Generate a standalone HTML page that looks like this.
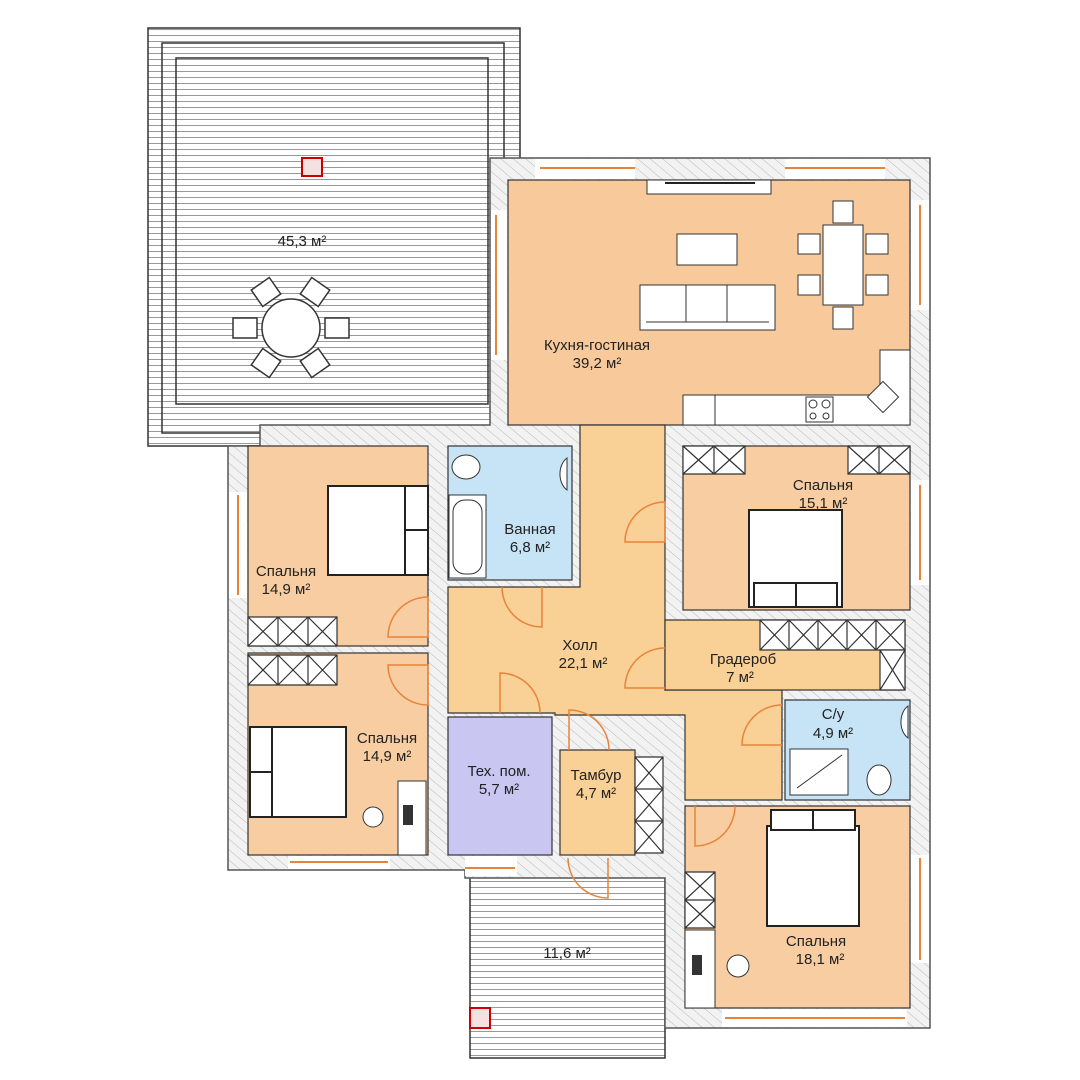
<!DOCTYPE html>
<html><head><meta charset="utf-8"><style>
html,body{margin:0;padding:0;background:#fff}
svg{display:block}
text{font-family:"Liberation Sans",sans-serif;font-size:15px;fill:#222;text-anchor:middle}
</style></head><body>
<svg width="1080" height="1080" viewBox="0 0 1080 1080" xmlns="http://www.w3.org/2000/svg">
<defs>
<pattern id="deck" width="10" height="6" patternUnits="userSpaceOnUse"><rect width="10" height="6" fill="#fff"/><line x1="0" y1="5.5" x2="10" y2="5.5" stroke="#999" stroke-width="1"/></pattern>
<pattern id="hatch" width="8" height="8" patternUnits="userSpaceOnUse" patternTransform="rotate(-50)"><rect width="8" height="8" fill="#f2f2f2"/><line x1="0" y1="0" x2="0" y2="8" stroke="#b8b8b8" stroke-width="1"/></pattern>
</defs>
<!-- top terrace -->
<rect x="148" y="28" width="372" height="418" fill="url(#deck)" stroke="#333" stroke-width="1.5"/>
<rect x="162" y="43" width="342" height="390" fill="none" stroke="#333" stroke-width="1.5"/>
<rect x="176" y="58" width="312" height="346" fill="url(#deck)" stroke="#333" stroke-width="1.5"/>
<!-- bottom terrace -->
<rect x="470" y="876" width="195" height="182" fill="url(#deck)" stroke="#333" stroke-width="1.5"/>
<!-- building walls -->
<polygon points="490,158 930,158 930,1028 665,1028 665,878 465,878 465,870 228,870 228,446 260,446 260,425 490,425" fill="url(#hatch)" stroke="#555" stroke-width="1.5"/>
<!-- window gaps -->
<g fill="#fff">
<rect x="535" y="159" width="100" height="20"/><rect x="785" y="159" width="100" height="20"/>
<rect x="911" y="200" width="18" height="110"/><rect x="911" y="480" width="18" height="105"/><rect x="911" y="855" width="18" height="108"/>
<rect x="229" y="492" width="18" height="106"/><rect x="288" y="856" width="102" height="13"/><rect x="465" y="856" width="52" height="20"/>
<rect x="722" y="1009" width="185" height="18"/><rect x="491" y="210" width="16" height="150"/>
</g>
<!-- rooms -->
<g stroke="#333" stroke-width="1.2">
<rect x="508" y="180" width="402" height="245" fill="#F8C99A"/>
<rect x="248" y="446" width="180" height="200" fill="#F8CDA2"/>
<rect x="248" y="653" width="180" height="202" fill="#F8CDA2"/>
<rect x="448" y="446" width="124" height="134" fill="#C6E4F5"/>
<polygon points="580,425 665,425 665,690 782,690 782,800 685,800 685,715 555,715 555,713 448,713 448,587 580,587" fill="#F9D095"/>
<rect x="683" y="446" width="227" height="164" fill="#F8CDA2"/>
<rect x="665" y="620" width="240" height="70" fill="#F9D095"/>
<rect x="785" y="700" width="125" height="100" fill="#C6E4F5"/>
<rect x="685" y="806" width="225" height="202" fill="#F8CDA2"/>
<rect x="448" y="717" width="104" height="138" fill="#C9C6F1"/>
<rect x="560" y="750" width="75" height="105" fill="#F9D095"/>
</g>
<!-- kitchen counter -->
<polygon points="683,395 880,395 880,350 910,350 910,425 683,425" fill="#fff" stroke="#333"/>
<line x1="715" y1="395" x2="715" y2="425" stroke="#333"/>
<rect x="806" y="397" width="27" height="25" fill="#fff" stroke="#333"/>
<circle cx="813" cy="404" r="4" fill="none" stroke="#333"/><circle cx="826" cy="404" r="4" fill="none" stroke="#333"/>
<circle cx="813" cy="416" r="3" fill="none" stroke="#333"/><circle cx="826" cy="416" r="3" fill="none" stroke="#333"/>
<rect x="872" y="386" width="22" height="22" fill="#fff" stroke="#333" transform="rotate(45 883 397)"/>
<!-- kitchen furniture -->
<rect x="677" y="234" width="60" height="31" fill="#fff" stroke="#333"/>
<rect x="640" y="285" width="135" height="45" fill="#fff" stroke="#333"/>
<line x1="686" y1="285" x2="686" y2="322" stroke="#333"/><line x1="727" y1="285" x2="727" y2="322" stroke="#333"/><line x1="646" y1="322" x2="769" y2="322" stroke="#333"/>
<rect x="823" y="225" width="40" height="80" fill="#fff" stroke="#333"/>
<g fill="#fff" stroke="#333"><rect x="833" y="201" width="20" height="22"/><rect x="833" y="307" width="20" height="22"/><rect x="798" y="234" width="22" height="20"/><rect x="798" y="275" width="22" height="20"/><rect x="866" y="234" width="22" height="20"/><rect x="866" y="275" width="22" height="20"/></g>
<rect x="647" y="180" width="124" height="14" fill="#fff" stroke="#333"/>
<line x1="665" y1="183" x2="755" y2="183" stroke="#222" stroke-width="2"/>
<!-- terrace table -->
<circle cx="291" cy="328" r="29" fill="#fff" stroke="#333" stroke-width="1.5"/>
<g fill="#fff" stroke="#333" stroke-width="1.5"><rect x="233" y="318" width="24" height="20"/><rect x="325" y="318" width="24" height="20"/>
<rect x="255" y="282" width="22" height="20" transform="rotate(-35 266 292)"/><rect x="304" y="282" width="22" height="20" transform="rotate(35 315 292)"/>
<rect x="255" y="353" width="22" height="20" transform="rotate(35 266 363)"/><rect x="304" y="353" width="22" height="20" transform="rotate(-35 315 363)"/></g>
<rect x="302" y="158" width="20" height="18" fill="#f6e0e0" stroke="#c00" stroke-width="2"/>
<rect x="470" y="1008" width="20" height="20" fill="#f6e0e0" stroke="#c00" stroke-width="2"/>
<!-- beds -->
<g fill="#fff" stroke="#222" stroke-width="2">
<rect x="328" y="486" width="100" height="89"/><rect x="405" y="486" width="23" height="89"/><line x1="405" y1="530" x2="428" y2="530"/>
<rect x="250" y="727" width="96" height="90"/><rect x="250" y="727" width="22" height="90"/><line x1="250" y1="772" x2="272" y2="772"/>
<rect x="749" y="510" width="93" height="97"/><rect x="754" y="583" width="83" height="24"/><line x1="796" y1="583" x2="796" y2="607"/>
<rect x="767" y="826" width="92" height="100"/><rect x="771" y="810" width="84" height="20"/><line x1="813" y1="810" x2="813" y2="830"/>
</g>
<!-- wardrobes with X -->
<g fill="#fff" stroke="#333" stroke-width="1.2">
<path d="M248,617h89v29h-89z M248,617l30,29 M278,617l-30,29 M278,617l30,29 M308,617l-30,29 M308,617l29,29 M337,617l-29,29 M278,617v29 M308,617v29"/>
<path d="M248,655h89v30h-89z M248,655l30,30 M278,655l-30,30 M278,655l30,30 M308,655l-30,30 M308,655l29,30 M337,655l-29,30 M278,655v30 M308,655v30"/>
<path d="M683,446h62v28h-62z M683,446l31,28 M714,446l-31,28 M714,446l31,28 M745,446l-31,28 M714,446v28"/>
<path d="M848,446h62v28h-62z M848,446l31,28 M879,446l-31,28 M879,446l31,28 M910,446l-31,28 M879,446v28"/>
<path d="M760,620h145v30h-145z M760,620l29,30 M789,620l-29,30 M789,620l29,30 M818,620l-29,30 M818,620l29,30 M847,620l-29,30 M847,620l29,30 M876,620l-29,30 M876,620l29,30 M905,620l-29,30 M789,620v30 M818,620v30 M847,620v30 M876,620v30"/>
<path d="M880,650h25v40h-25z M880,650l25,40 M905,650l-25,40"/>
<path d="M635,757h28v96h-28z M635,757l28,32 M663,757l-28,32 M635,789l28,32 M663,789l-28,32 M635,821l28,32 M663,821l-28,32 M635,789h28 M635,821h28"/>
<path d="M685,872h30v56h-30z M685,872l30,28 M715,872l-30,28 M685,900l30,28 M715,900l-30,28 M685,900h30"/>
</g>
<!-- desks -->
<rect x="398" y="781" width="28" height="74" fill="#fff" stroke="#333"/>
<rect x="685" y="930" width="30" height="78" fill="#fff" stroke="#333"/>
<rect x="403" y="805" width="10" height="20" fill="#333"/>
<rect x="692" y="955" width="10" height="20" fill="#333"/>
<circle cx="373" cy="817" r="10" fill="#fff" stroke="#333"/>
<circle cx="738" cy="966" r="11" fill="#fff" stroke="#333"/>
<!-- bathroom fixtures -->
<g fill="#fff" stroke="#333">
<rect x="449" y="495" width="37" height="83"/><rect x="453" y="500" width="29" height="74" rx="12"/>
<ellipse cx="466" cy="467" rx="14" ry="12"/>
<path d="M567,458 a13,18 0 0 0 0,32z"/>
<path d="M908,706 a13,18 0 0 0 0,32z"/>
<ellipse cx="879" cy="780" rx="12" ry="15"/>
<rect x="790" y="749" width="58" height="46"/><line x1="797" y1="788" x2="842" y2="755"/>
</g>
<!-- doors -->
<g fill="none" stroke="#E8843A" stroke-width="1.5">
<path d="M428,597 a40,40 0 0 0 -40,40 h40z"/>
<path d="M428,705 a40,40 0 0 1 -40,-40 h40z"/>
<path d="M502,587 a40,40 0 0 0 40,40 v-40"/>
<path d="M500,713 v-40 a40,40 0 0 1 40,40"/>
<path d="M569,750 v-40 a40,40 0 0 1 40,40"/>
<path d="M665,502 a40,40 0 0 0 -40,40 h40z" />
<path d="M665,648 a40,40 0 0 0 -40,40 h40"/>
<path d="M782,705 a40,40 0 0 0 -40,40 h40"/>
<path d="M695,806 v40 a40,40 0 0 0 40,-40"/>
<path d="M568,858 a40,40 0 0 0 40,40 v-40"/>
</g>
<!-- windows -->
<g stroke="#E8843A" stroke-width="2">
<line x1="540" y1="168" x2="635" y2="168"/><line x1="785" y1="168" x2="885" y2="168"/>
<line x1="920" y1="205" x2="920" y2="305"/><line x1="920" y1="485" x2="920" y2="580"/><line x1="920" y1="858" x2="920" y2="960"/>
<line x1="238" y1="495" x2="238" y2="595"/><line x1="290" y1="862" x2="388" y2="862"/><line x1="465" y1="868" x2="515" y2="868"/>
<line x1="725" y1="1018" x2="905" y2="1018"/><line x1="496" y1="215" x2="496" y2="355"/>
</g>
<!-- labels -->
<text x="302" y="246">45,3 м²</text>
<text x="597" y="350">Кухня-гостиная</text><text x="597" y="368">39,2 м²</text>
<text x="530" y="534">Ванная</text><text x="530" y="552">6,8 м²</text>
<text x="286" y="576">Спальня</text><text x="286" y="594">14,9 м²</text>
<text x="823" y="490">Спальня</text><text x="823" y="508">15,1 м²</text>
<text x="580" y="650">Холл</text><text x="583" y="668">22,1 м²</text>
<text x="743" y="664">Градероб</text><text x="740" y="682">7 м²</text>
<text x="833" y="719">С/у</text><text x="833" y="738">4,9 м²</text>
<text x="387" y="743">Спальня</text><text x="387" y="761">14,9 м²</text>
<text x="499" y="776">Тех. пом.</text><text x="499" y="794">5,7 м²</text>
<text x="596" y="780">Тамбур</text><text x="596" y="798">4,7 м²</text>
<text x="567" y="958">11,6 м²</text>
<text x="816" y="946">Спальня</text><text x="820" y="964">18,1 м²</text>
</svg>
</body></html>
